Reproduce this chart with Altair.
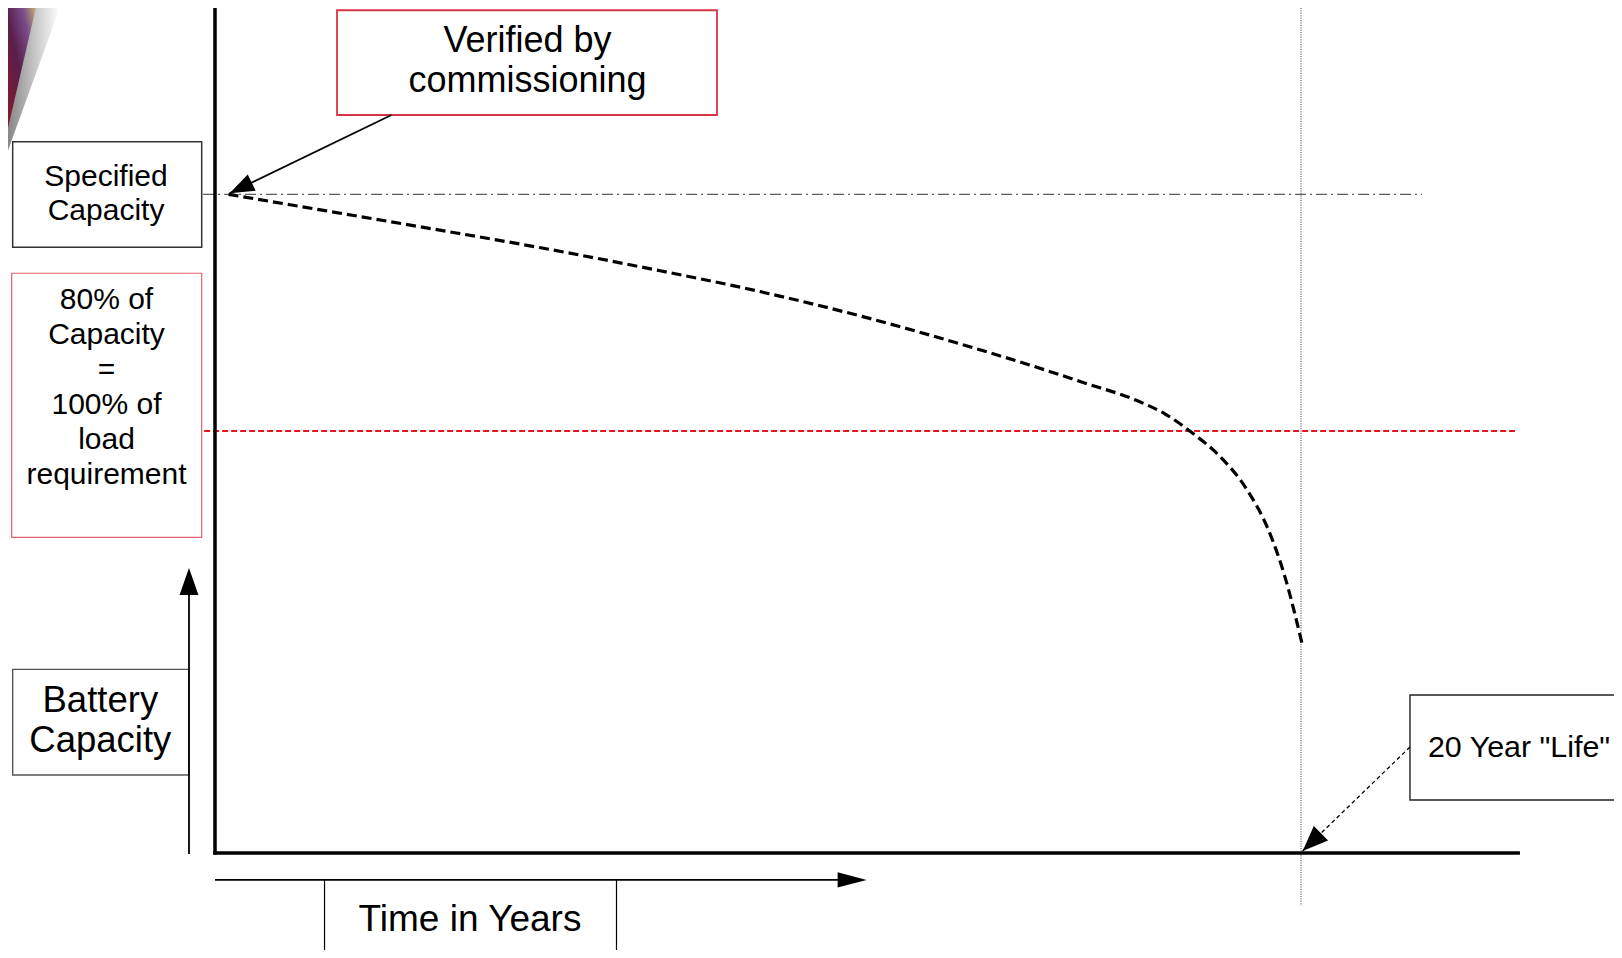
import math
import altair as alt
import pandas as pd

# ---------------- data ----------------
# battery capacity (% of specified capacity) versus years in service
curve_years = [0.25, 2.0, 4.0, 6.0, 8.0, 10.0, 12.0, 14.0, 15.0, 16.0,
               17.0, 17.5, 18.0, 18.5, 19.0, 19.4, 19.7, 20.02]
curve_capacity = [100.0, 98.64, 97.08, 95.48, 93.72, 91.82, 89.58, 86.98, 85.58, 84.08,
                  82.53, 81.43, 79.83, 77.88, 75.08, 71.64, 67.74, 62.02]

specified_capacity = 100
replacement_capacity = 80
design_life = 20
axis_floor = 44.34     # capacity value where the time axis is drawn
axis_end_year = 24.0   # right end of time axis

box_verified = ["Verified by", "commissioning"]
box_specified = ["Specified", "Capacity"]
box_eighty = ["80% of", "Capacity", "=", "100% of", "load", "requirement"]
box_battery = ["Battery", "Capacity"]
box_time = ["Time in Years"]
box_life = ['20 Year "Life"']

# ---------------- layout (scale geometry) ----------------
W, H = 1606, 942
PX_PER_YEAR = 54.3
PX_PER_PCT = 11.835
ORIGIN_X = 207.0   # px of year 0 inside the plot
Y100 = 186.3       # px of 100 % inside the plot
XMIN = -ORIGIN_X / PX_PER_YEAR
XMAX = (W - ORIGIN_X) / PX_PER_YEAR
YMAX = 100 + Y100 / PX_PER_PCT
YMIN = 100 - (H - Y100) / PX_PER_PCT

xs = alt.Scale(domain=[XMIN, XMAX], nice=False, zero=False)
ys = alt.Scale(domain=[YMIN, YMAX], nice=False, zero=False)


def ex(f):
    return alt.X(f, type="quantitative", scale=xs, axis=None)


def ey(f):
    return alt.Y(f, type="quantitative", scale=ys, axis=None)


def rules(rows):
    return pd.DataFrame(rows, columns=["x", "x2", "y", "y2"])


def rule_layer(df, **kw):
    return alt.Chart(df).mark_rule(**kw).encode(
        x=ex("x"), x2=alt.X2("x2"), y=ey("y"), y2=alt.Y2("y2"))


def heading(tail, tip):
    dx = (tip[0] - tail[0]) * PX_PER_YEAR
    dy = -(tip[1] - tail[1]) * PX_PER_PCT
    return math.degrees(math.atan2(dx, -dy)) % 360


# ---------------- layers ----------------
# slide decoration in top-left corner
shadow = alt.Chart(pd.DataFrame({"x": [XMIN, -2.86], "y": [103.7, YMAX], "y2": [YMAX, YMAX]})).mark_area(
    color=alt.LinearGradient(gradient="linear", x1=0, x2=1, y1=0, y2=0,
                             stops=[alt.GradientStop(color="#7a7a7a", offset=0),
                                    alt.GradientStop(color="#ffffff", offset=1)]),
    opacity=0.9).encode(x=ex("x"), y=ey("y"), y2=alt.Y2("y2"))
corner = alt.Chart(pd.DataFrame({"x": [XMIN, -3.3], "y": [105.6, YMAX], "y2": [YMAX, YMAX]})).mark_area(
    color=alt.LinearGradient(gradient="linear", x1=0, x2=1, y1=1, y2=0,
                             stops=[alt.GradientStop(color="#8a1a2a", offset=0),
                                    alt.GradientStop(color="#5a1f4a", offset=0.45),
                                    alt.GradientStop(color="#7a4a8a", offset=0.75),
                                    alt.GradientStop(color="#c0b070", offset=1)])).encode(
    x=ex("x"), y=ey("y"), y2=alt.Y2("y2"))

# reference lines
spec_line = rule_layer(rules([[-0.22, 22.23, specified_capacity, specified_capacity]]),
                       color="#333333", strokeWidth=1, strokeDash=[11, 4, 2, 4])
red_line = rule_layer(rules([[-0.2, 23.94, replacement_capacity, replacement_capacity]]),
                      color="#e3141b", strokeWidth=1.8, strokeDash=[6, 3])
life_line = rule_layer(rules([[design_life, design_life, YMAX, 39.87]]),
                       color="#555555", strokeWidth=1, strokeDash=[1.2, 1.2])

# main axes
axes = rule_layer(rules([[0, 0, YMAX, axis_floor], [0, axis_end_year, axis_floor, axis_floor]]),
                  color="black", strokeWidth=3.5, strokeCap="square")

# arrows shafts
verified_tail, verified_tip = (3.25, 106.70), (0.27, 100.08)
life_tail, life_tip = (22.007, 53.30), (20.03, 44.51)
battery_tail, battery_tip = (-0.479, 44.26), (-0.479, 68.43)
time_tail, time_tip = (0.0, 42.07), (12.0, 42.07)

shafts = rule_layer(rules([
    [verified_tail[0], verified_tip[0], verified_tail[1], verified_tip[1]],
    [battery_tail[0], battery_tip[0], battery_tail[1], 66.5],
    [time_tail[0], 11.6, time_tail[1], time_tail[1]],
]), color="black", strokeWidth=1.8)
time_box_sides = rule_layer(rules([[2.017, 2.017, 42.07, YMIN - 2], [7.394, 7.394, 42.07, YMIN - 2]]),
                            color="black", strokeWidth=1.2)
life_shaft = rule_layer(rules([[life_tail[0], life_tip[0], life_tail[1], life_tip[1]]]),
                        color="black", strokeWidth=1.3, strokeDash=[4, 3])

# capacity curve
curve = alt.Chart(pd.DataFrame({"year": curve_years, "cap": curve_capacity})).mark_line(
    color="black", strokeWidth=3.2, strokeDash=[10, 5], interpolate="monotone").encode(
    x=ex("year"), y=ey("cap"), order="year:Q")

# arrow heads
heads = pd.DataFrame({
    "x": [verified_tip[0], life_tip[0], battery_tip[0], time_tip[0]],
    "y": [verified_tip[1], life_tip[1], battery_tip[1], time_tip[1]],
    "ang": [heading(verified_tail, verified_tip), heading(life_tail, life_tip),
            heading(battery_tail, battery_tip), heading(time_tail, time_tip)],
    "sz": [600, 650, 729, 841],
    "shp": ["M0,0L-0.74,2L0.74,2Z", "M0,0L-0.8,2L0.8,2Z",
            "M0,0L-0.7,2L0.7,2Z", "M0,0L-0.52,2L0.52,2Z"],
})
arrowheads = alt.Chart(heads).mark_point(filled=True, color="black", opacity=1, strokeWidth=0).encode(
    x=ex("x"), y=ey("y"),
    angle=alt.Angle("ang:Q", scale=None),
    size=alt.Size("sz:Q", scale=None),
    shape=alt.Shape("shp:N", scale=None))

# boxes
boxes = pd.DataFrame([
    {"x": 2.247, "x2": 9.245, "y": 115.55, "y2": 106.70, "st": "#d63447", "sw": 1.8},
    {"x": -3.726, "x2": -0.245, "y": 104.44, "y2": 95.52, "st": "#333333", "sw": 1.5},
    {"x": -3.744, "x2": -0.245, "y": 93.33, "y2": 71.02, "st": "#e0606e", "sw": 1.2},
    {"x": -3.726, "x2": -0.479, "y": 59.86, "y2": 50.93, "st": "#555555", "sw": 1.4},
    {"x": 22.007, "x2": 26.5, "y": 57.69, "y2": 48.82, "st": "#222222", "sw": 1.4},
])
box_layer = alt.Chart(boxes).mark_rect(fill="white").encode(
    x=ex("x"), x2=alt.X2("x2"), y=ey("y"), y2=alt.Y2("y2"),
    stroke=alt.Stroke("st:N", scale=None),
    strokeWidth=alt.StrokeWidth("sw:Q", scale=None))

# texts
texts = []
for t, yy in zip(box_verified, [112.05, 108.64]):
    texts.append({"t": t, "x": 5.755, "y": yy, "fs": 36})
for t, yy in zip(box_specified, [100.66, 97.79]):
    texts.append({"t": t, "x": -2.007, "y": yy, "fs": 30})
for t, yy in zip(box_eighty, [90.28, 87.33, 84.39, 81.44, 78.49, 75.54]):
    texts.append({"t": t, "x": -1.998, "y": yy, "fs": 30})
for t, yy in zip(box_battery, [56.26, 52.88]):
    texts.append({"t": t, "x": -2.112, "y": yy, "fs": 36.5})
for t in box_time:
    texts.append({"t": t, "x": 4.696, "y": 37.75, "fs": 37})
for t in box_life:
    texts.append({"t": t, "x": 24.015, "y": 52.48, "fs": 30.4})
text_layer = alt.Chart(pd.DataFrame(texts)).mark_text(
    align="center", baseline="alphabetic", font="Liberation Sans", color="black").encode(
    x=ex("x"), y=ey("y"), text="t:N",
    size=alt.Size("fs:Q", scale=None))

chart = alt.layer(
    shadow, corner,
    spec_line, red_line, life_line,
    box_layer, time_box_sides,
    curve, axes, shafts, life_shaft, arrowheads,
    text_layer,
).properties(
    width=W, height=H,
    autosize=alt.AutoSizeParams(type="none"),
    padding=0,
    background="white",
).configure_view(stroke=None)

chart.save("out.html", embed_options={"renderer": "svg", "actions": False})
